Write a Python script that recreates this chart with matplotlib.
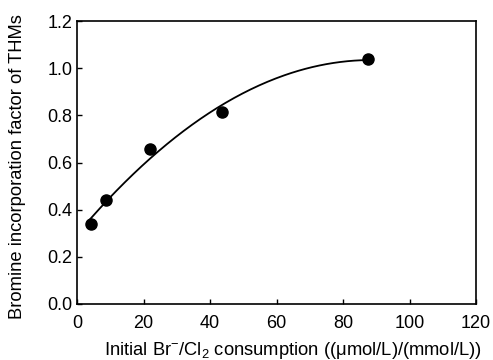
import numpy as np
import matplotlib.pyplot as plt

plt.rcParams['font.family'] = ['Liberation Sans', 'DejaVu Sans']
plt.rcParams['mathtext.fontset'] = 'custom'
plt.rcParams['mathtext.rm'] = 'Liberation Sans'
plt.rcParams['mathtext.it'] = 'Liberation Sans'

# data
br_cl = [4.2, 8.6, 22.0, 43.7, 87.6]
bif = [0.339, 0.441, 0.657, 0.816, 1.039]

# quadratic fit through the points
coef = np.polyfit(br_cl, bif, 2)
xf = np.linspace(3.9, 87.6, 200)
yf = np.polyval(coef, xf)

fig = plt.figure(figsize=(4.93, 3.6), dpi=100)
ax = fig.add_axes([77 / 493, 1 - 304 / 360, (476 - 77) / 493, (304 - 21) / 360])

ax.plot(xf, yf, color='black', linewidth=1.3)
ax.scatter(br_cl, bif, s=64, color='black', zorder=3)

ax.set_xlim(0, 120)
ax.set_ylim(0, 1.2)
ax.set_xticks(np.arange(0, 121, 20))
ax.set_yticks(np.arange(0, 1.21, 0.2))
ax.set_yticklabels(['%.1f' % v for v in np.arange(0, 1.21, 0.2)])
ax.tick_params(direction='in', length=3.5, width=1, labelsize=13)
ax.tick_params(axis='x', pad=8)
ax.tick_params(axis='y', pad=3.5)
for s in ax.spines.values():
    s.set_linewidth(1.2)

ax.set_xlabel(r'Initial Br$^{\mathregular{-}}$/Cl$_{\mathregular{2}}$ consumption ((μmol/L)/(mmol/L))',
              fontsize=13.2)
ax.set_ylabel('Bromine incorporation factor of THMs', fontsize=13.2)
ax.xaxis.set_label_coords(0.541, -0.128)
ax.yaxis.set_label_coords(-0.128, 0.486)

fig.savefig('out.png', dpi=100)
